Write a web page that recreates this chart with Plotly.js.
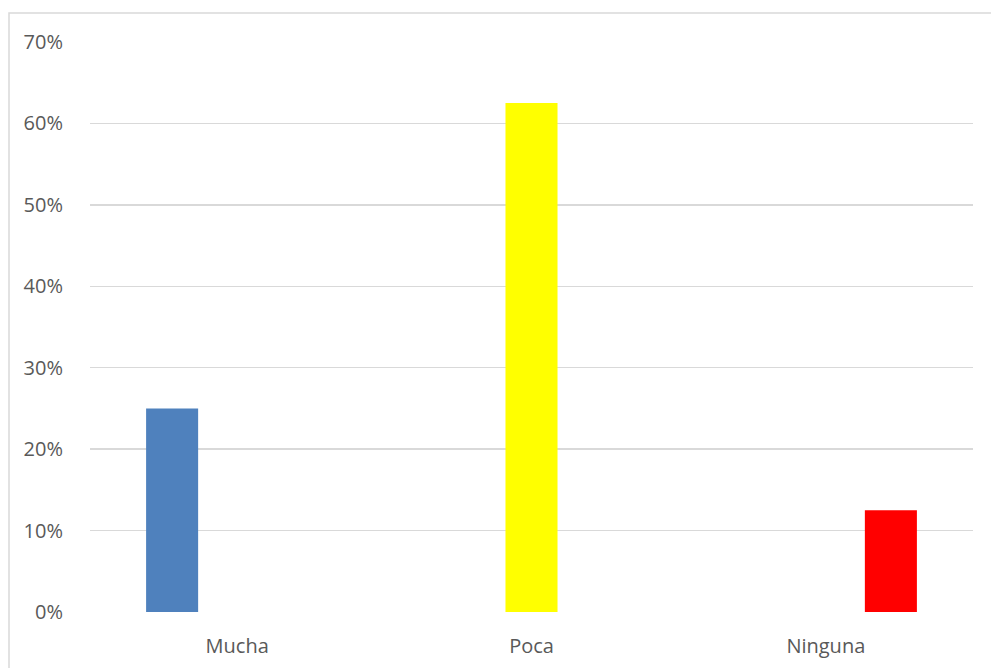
<!DOCTYPE html>
<html><head><meta charset="utf-8">
<script src="https://cdn.plot.ly/plotly-3.0.1.min.js"></script>
<style>body{margin:0;padding:0;background:#fff}#chart{width:991px;height:668px}</style>
</head><body><div id="chart"></div>
<script>
var categories = ["Mucha", "Poca", "Ninguna"];
var muchaValues = [0.25, null, null];
var pocaValues = [null, 0.625, null];
var ningunaValues = [null, null, 0.125];
var tickValues = [0, 0.1, 0.2, 0.3, 0.4, 0.5, 0.6, 0.7];
var tickLabels = ["0%", "10%", "20%", "30%", "40%", "50%", "60%", "70%"];

var traces = [
  {type: "bar", x: categories, y: muchaValues, marker: {color: "#4F81BD"}, name: "Mucha"},
  {type: "bar", x: categories, y: pocaValues, marker: {color: "#FFFF00"}, name: "Poca"},
  {type: "bar", x: categories, y: ningunaValues, marker: {color: "#FF0000"}, name: "Ninguna"}
];
var font = {family: "Open Sans, Noto Sans, sans-serif", size: 20, color: "#595959"};
var layout = {
  width: 991, height: 668,
  margin: {l: 90, r: 18, t: 42, b: 56},
  barmode: "group", bargap: 0.337, bargroupgap: 0.2,
  showlegend: false,
  paper_bgcolor: "#fff", plot_bgcolor: "#fff",
  font: font,
  xaxis: {showgrid: false, zeroline: false, showline: false, ticks: "outside", ticklen: 16, tickcolor: "rgba(0,0,0,0)", tickfont: font},
  yaxis: {range: [0, 0.7], tickvals: tickValues, ticktext: tickLabels, showgrid: true, gridcolor: "#d9d9d9", gridwidth: 1.5, zeroline: false, showline: false, ticks: "outside", ticklen: 22, tickcolor: "rgba(0,0,0,0)", tickfont: font},
  shapes: [{type: "rect", xref: "paper", yref: "paper", x0: -81/883, x1: 1.03, y0: -0.2, y1: 1 + 29/570, line: {color: "#d9d9d9", width: 1.5}, fillcolor: "rgba(0,0,0,0)"}]
};
Plotly.newPlot("chart", traces, layout, {displayModeBar: false, staticPlot: true});
</script></body></html>
